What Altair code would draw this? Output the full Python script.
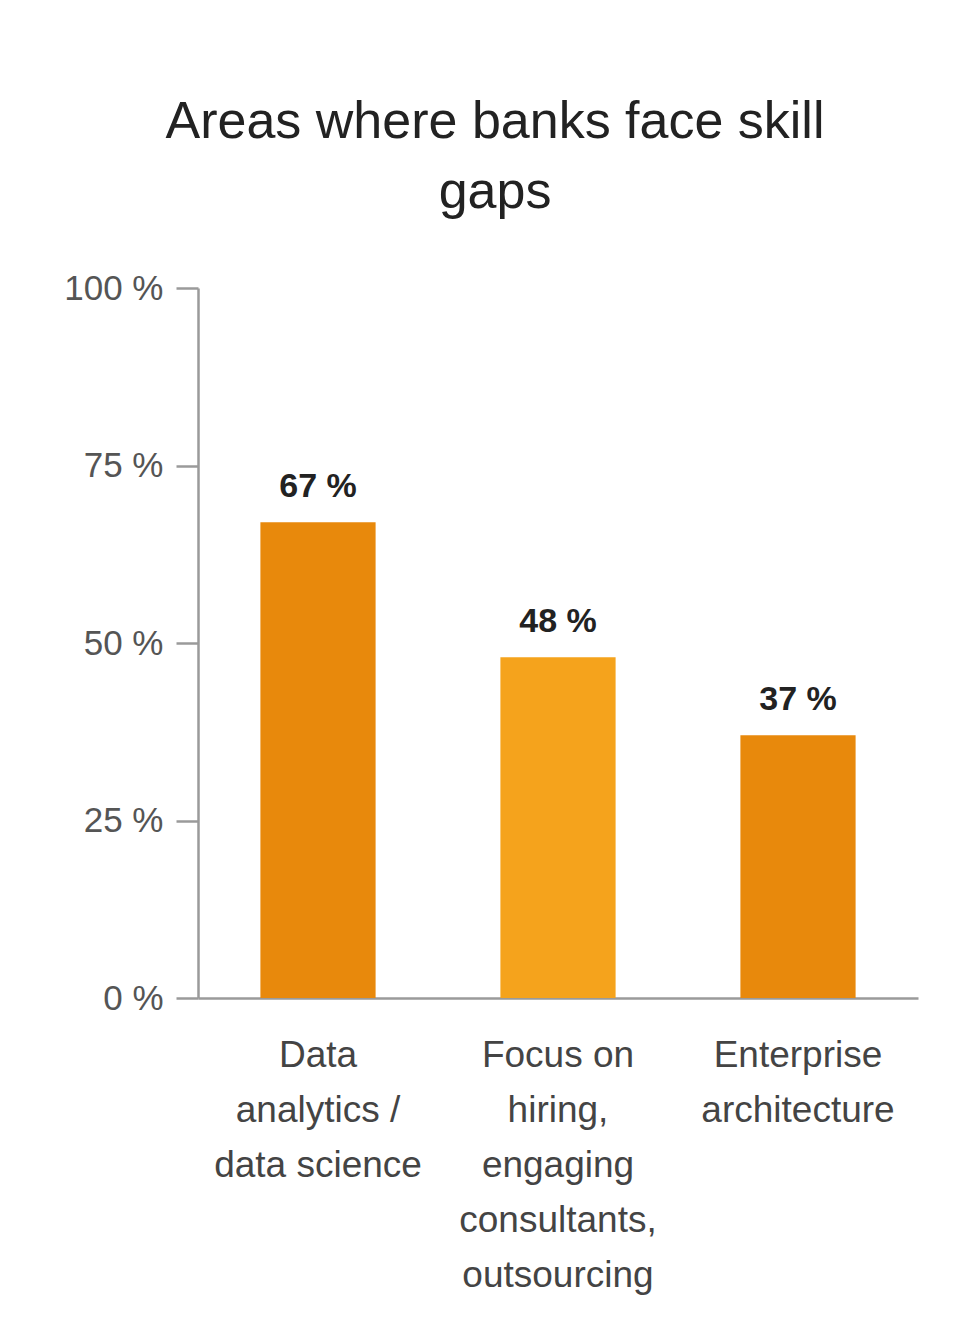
import altair as alt
import pandas as pd

categories = ["Data\nanalytics /\ndata science",
              "Focus on\nhiring,\nengaging\nconsultants,\noutsourcing",
              "Enterprise\narchitecture"]
values = [67, 48, 37]
bar_colors = ["#E8890C", "#F5A31C", "#E8890C"]
y_ticks = [0, 25, 50, 75, 100]
title_lines = ["Areas where banks face skill", "gaps"]

FONT = "Liberation Sans, Arial, Helvetica, sans-serif"

df = pd.DataFrame({"category": categories, "value": values})

base = alt.Chart(df).encode(
    x=alt.X("category:N", sort=categories,
            scale=alt.Scale(paddingInner=0.52, paddingOuter=0.26),
            axis=alt.Axis(title=None, labelAngle=0, ticks=False,
                          labelExpr="split(datum.label, '\\n')",
                          labelLineHeight=55, labelPadding=68,
                          labelLimit=400, labelBaseline="alphabetic",
                          labelFontSize=37, labelColor="#444444",
                          labelFont=FONT, domainColor="#9a9a9a",
                          domainWidth=2.5)),
)

bars = base.mark_bar().encode(
    y=alt.Y("value:Q", scale=alt.Scale(domain=[0, 100]),
            axis=alt.Axis(title=None, values=y_ticks, grid=False,
                          labelExpr="datum.value + ' %'",
                          tickSize=22, tickWidth=2.5, tickColor="#9a9a9a",
                          domainColor="#9a9a9a", domainWidth=2.5,
                          labelPadding=13, labelFontSize=35,
                          labelColor="#555555", labelFont=FONT)),
    color=alt.Color("category:N", sort=categories,
                    scale=alt.Scale(domain=categories, range=bar_colors),
                    legend=None),
)

labels = base.mark_text(baseline="alphabetic", dy=-25, fontSize=34,
                        fontWeight="bold", color="#222222", font=FONT).encode(
    y=alt.Y("value:Q"),
    text=alt.Text("label:N"),
).transform_calculate(label="datum.value + ' %'")

chart = alt.layer(bars, labels).properties(
    width=720, height=710,
    title=alt.TitleParams(title_lines, fontSize=52, font=FONT,
                          fontWeight="normal", color="#222222",
                          lineHeight=70, offset=52, dx=-63, anchor="middle"),
    autosize=alt.AutoSizeParams(type="none"),
    padding={"left": 198, "top": 288, "right": 53, "bottom": 334},
    background="white",
).configure_view(stroke=None)

chart.save("out.html", embed_options={"renderer": "svg", "actions": False})
